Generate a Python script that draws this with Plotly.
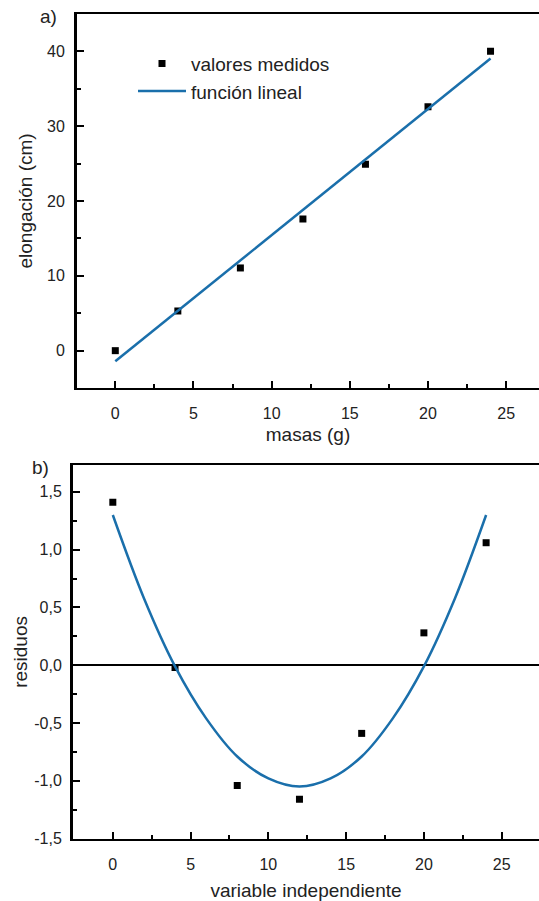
import plotly.graph_objects as go

# ---- data ----
masas = [0, 4, 8, 12, 16, 20, 24]
elongacion = [0.0, 5.3, 11.05, 17.6, 24.9, 32.6, 40.0]
fit_x = [0, 24]
fit_y = [-1.42, 39.03]

res_x = [0, 4, 8, 12, 16, 20, 24]
residuos = [1.41, -0.02, -1.04, -1.16, -0.59, 0.28, 1.06]
curve_x = [0, 2, 4, 6, 8, 10, 12, 14, 16, 18, 20, 22, 24]
curve_y = [1.30, 0.58, -0.01, -0.46, -0.79, -0.98, -1.05, -0.98, -0.79, -0.46, -0.01, 0.58, 1.30]

xticks = [0, 5, 10, 15, 20, 25]
yticks_a = [0, 10, 20, 30, 40]
yticks_b = [-1.5, -1.0, -0.5, 0.0, 0.5, 1.0, 1.5]
yticks_b_text = ["-1,5", "-1,0", "-0,5", "0,0", "0,5", "1,0", "1,5"]

W, H = 539, 901
FONT = "Arial, Liberation Sans, sans-serif"
BLUE = "#1a6fab"
TXT = "#222"

fig = go.Figure()
fig.add_trace(go.Scatter(x=masas, y=elongacion, mode="markers", name="valores medidos",
                         marker=dict(symbol="square", size=7, color="black"),
                         xaxis="x", yaxis="y"))
fig.add_trace(go.Scatter(x=fit_x, y=fit_y, mode="lines", name="función lineal",
                         line=dict(color=BLUE, width=2.5), xaxis="x", yaxis="y"))
fig.add_trace(go.Scatter(x=res_x, y=residuos, mode="markers", showlegend=False,
                         marker=dict(symbol="square", size=7, color="black"),
                         xaxis="x2", yaxis="y2"))
fig.add_trace(go.Scatter(x=curve_x, y=curve_y, mode="lines", showlegend=False,
                         line=dict(color=BLUE, width=2.5, shape="spline"),
                         xaxis="x2", yaxis="y2"))

def px(v):
    return v / W

def py(v):
    return 1 - v / H

def ax(**kw):
    d = dict(showline=True, linecolor="black", linewidth=2, ticks="inside",
             ticklen=7, tickwidth=2, tickcolor="black", showgrid=False,
             zeroline=False, tickfont=dict(family=FONT, size=16, color=TXT))
    d.update(kw)
    return d

def minor(dt):
    return dict(dtick=dt, tick0=0, ticks="inside", ticklen=4, tickwidth=2, tickcolor="black")

def ttl(t, s):
    return dict(text=t, font=dict(family=FONT, size=19, color=TXT), standoff=s)

A_L, A_T, A_B = 77, 14, 392
B_L, B_T, B_B = 73, 470, 847

fig.update_layout(
    width=W, height=H, margin=dict(l=0, r=0, t=0, b=0),
    paper_bgcolor="white", plot_bgcolor="white",
    font=dict(family=FONT, color=TXT),
    showlegend=True,
    legend=dict(x=px(133), y=py(45), xanchor="left", yanchor="top",
                bgcolor="rgba(0,0,0,0)", itemwidth=48,
                font=dict(family=FONT, size=19, color=TXT), tracegroupgap=0),
    xaxis=ax(domain=[px(A_L), 1], range=[-2.45, 27.1], anchor="y", mirror=True,
             tickvals=xticks, minor=minor(2.5), ticklabelstandoff=10,
             title=ttl("masas (g)", 6)),
    yaxis=ax(domain=[py(A_B), py(A_T)], range=[-5, 45], anchor="x", mirror=False,
             tickvals=yticks_a, minor=minor(5), ticklabelstandoff=6,
             title=ttl("elongación (cm)", 10), linewidth=3),
    xaxis2=ax(domain=[px(B_L), 1], range=[-2.56, 27.4], anchor="y2", mirror=True,
              tickvals=xticks, minor=minor(2.5), ticklabelstandoff=10,
              title=ttl("variable independiente", 12)),
    yaxis2=ax(domain=[py(B_B), py(B_T)], range=[-1.5, 1.73], anchor="x2", mirror=False,
              tickvals=yticks_b, ticktext=yticks_b_text, minor=minor(0.25),
              ticklabelstandoff=5, title=ttl("residuos", 2), linewidth=3,
              zeroline=True, zerolinecolor="black", zerolinewidth=2),
    annotations=[
        dict(text="a)", x=px(48), y=py(17), xref="paper", yref="paper", showarrow=False,
             xanchor="center", yanchor="middle",
             font=dict(family=FONT, size=19, color=TXT)),
        dict(text="b)", x=px(40), y=py(472), xref="paper", yref="paper", showarrow=False,
             xanchor="center", yanchor="middle",
             font=dict(family=FONT, size=19, color=TXT)),
    ],
)

fig.write_html("out.html")
